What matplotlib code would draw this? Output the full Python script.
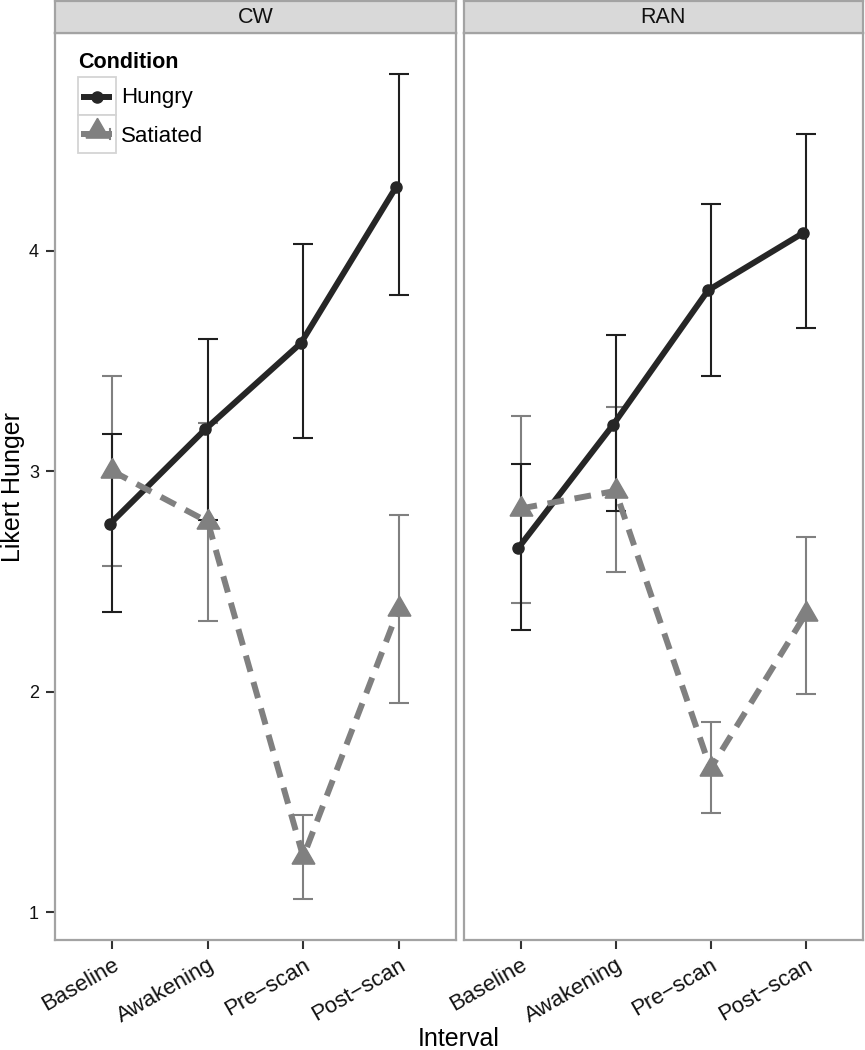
import matplotlib
matplotlib.use("Agg")
import matplotlib.pyplot as plt
from matplotlib.patches import Rectangle
from matplotlib.lines import Line2D
import numpy as np

plt.rcParams['font.family'] = ['Liberation Sans', 'DejaVu Sans']

# ---------------- data ----------------
intervals = ["Baseline", "Awakening", "Pre\u2212scan", "Post\u2212scan"]
panels = ["CW", "RAN"]
conditions = ["Hungry", "Satiated"]

cw_hungry = [2.76, 3.19, 3.58, 4.29]
cw_hungry_lo = [2.36, 2.78, 3.15, 3.80]
cw_hungry_hi = [3.17, 3.60, 4.03, 4.80]
cw_sat = [3.00, 2.77, 1.25, 2.375]
cw_sat_lo = [2.57, 2.32, 1.06, 1.95]
cw_sat_hi = [3.43, 3.22, 1.44, 2.80]

ran_hungry = [2.65, 3.21, 3.82, 4.08]
ran_hungry_lo = [2.28, 2.82, 3.43, 3.65]
ran_hungry_hi = [3.03, 3.615, 4.21, 4.53]
ran_sat = [2.83, 2.91, 1.65, 2.35]
ran_sat_lo = [2.40, 2.54, 1.45, 1.99]
ran_sat_hi = [3.25, 3.29, 1.86, 2.70]

yticks = [1, 2, 3, 4]

# ---------------- figure ----------------
W, H = 865, 1050
fig = plt.figure(figsize=(W / 100, H / 100), dpi=100)
fig.patch.set_facecolor('white')


def rect(x0, y0, x1, y1):
    return [x0 / W, 1 - y1 / H, (x1 - x0) / W, (y1 - y0) / H]


def fp(x, y):
    return (x / W, 1 - y / H)


panel_px = [(55, 456), (463.5, 862.5)]
top_px, bot_px = 33, 940
strip_top = 1

allvals = cw_hungry_lo + cw_hungry_hi + cw_sat_lo + cw_sat_hi + ran_hungry_lo + ran_hungry_hi + ran_sat_lo + ran_sat_hi
ymin, ymax = min(allvals), max(allvals)
rng = ymax - ymin
ylim = (ymin - 0.05 * rng, ymax + 0.05 * rng)

hungry_col = '#262626'
sat_col = '#808080'
border_col = '#a3a3a3'
tri = (3, 0, 0)

data = {
    "CW": (cw_hungry, cw_hungry_lo, cw_hungry_hi, cw_sat, cw_sat_lo, cw_sat_hi),
    "RAN": (ran_hungry, ran_hungry_lo, ran_hungry_hi, ran_sat, ran_sat_lo, ran_sat_hi),
}

x = np.arange(1, len(intervals) + 1)

for i, name in enumerate(panels):
    x0, x1 = panel_px[i]
    ax = fig.add_axes(rect(x0, top_px, x1, bot_px))
    h, hlo, hhi, s, slo, shi = data[name]
    h = np.array(h); s = np.array(s)
    ax.errorbar(x, s, yerr=[s - np.array(slo), np.array(shi) - s], fmt='none',
                ecolor=sat_col, elinewidth=1.5, capsize=7.2, capthick=1.5, zorder=2)
    ax.errorbar(x, h, yerr=[h - np.array(hlo), np.array(hhi) - h], fmt='none',
                ecolor='#1f1f1f', elinewidth=1.5, capsize=7.2, capthick=1.5, zorder=2)
    ax.plot(x - 0.025, h, color=hungry_col, lw=4.3, marker='o', markersize=8,
            solid_capstyle='butt', zorder=3)
    ax.plot(x, s, color=sat_col, lw=4.3, dashes=(2.8, 1.8), dash_capstyle='butt',
            zorder=4)
    ax.plot(x, s, color=sat_col, lw=0, marker=tri, markersize=19, zorder=5)

    ax.set_xlim(0.4, 4.6)
    ax.set_ylim(*ylim)
    ax.set_xticks(x)
    ax.set_xticklabels(intervals, rotation=30, ha='right', va='top',
                       rotation_mode='anchor', fontsize=16, color='#111111')
    ax.set_yticks(yticks)
    for sp in ax.spines.values():
        sp.set_color(border_col)
        sp.set_linewidth(1.6)
    ax.tick_params(axis='both', length=6.5, width=1.5, color='#333333', direction='out')
    ax.tick_params(axis='x', pad=4)
    if i == 0:
        ax.set_yticklabels([str(t) for t in yticks], fontsize=13, color='#111111')
        ax.tick_params(axis='y', pad=5)
    else:
        ax.tick_params(axis='y', left=False, labelleft=False)

    # strip
    sax = fig.add_axes(rect(x0, strip_top, x1, top_px))
    sax.set_facecolor('#d9d9d9')
    sax.set_xticks([]); sax.set_yticks([])
    for sp in sax.spines.values():
        sp.set_color(border_col)
        sp.set_linewidth(1.6)
    sax.text(0.5, 0.48, name, transform=sax.transAxes, ha='center', va='center',
             fontsize=15.5, color='#111111')

# axis titles
fig.text(*fp(13, 487), "Likert Hunger", rotation=90, ha='center', va='center', fontsize=18)
fig.text(*fp(458.5, 1039), "Interval", ha='center', va='center', fontsize=18)

# legend (manual, ggplot-like)
fig.text(*fp(78, 68), "Condition", ha='left', va='baseline', fontsize=15.5, fontweight='bold')
for (ky0, ky1) in [(76.7, 114.5), (115.0, 152.5)]:
    xy = fp(77.7, ky1)
    fig.patches.append(Rectangle(xy, (115.7 - 77.7) / W, (ky1 - ky0) / H,
                                 transform=fig.transFigure, facecolor='white',
                                 edgecolor='#d4d4d4', linewidth=1.3, zorder=5))
lx0, ly0 = fp(81, 96.5)
lx1, _ = fp(112, 96.5)
fig.lines.append(Line2D([lx0, lx1], [ly0, ly0], transform=fig.transFigure, color=hungry_col,
                        lw=4.3, solid_capstyle='butt', zorder=6))
fig.lines.append(Line2D([(lx0 + lx1) / 2], [ly0], transform=fig.transFigure, color=hungry_col,
                        marker='o', markersize=8, lw=0, zorder=7))
sx0, sy0 = fp(81, 134)
sx1, _ = fp(112, 134)
fig.lines.append(Line2D([sx0, sx1], [sy0, sy0], transform=fig.transFigure, color=sat_col,
                        lw=4.3, solid_capstyle='butt', zorder=6))
fig.lines.append(Line2D([fp(110.5, 0)[0]] * 2, [fp(0, 129)[1], fp(0, 139)[1]],
                        transform=fig.transFigure, color=sat_col, lw=1.5, zorder=6))
fig.lines.append(Line2D([(sx0 + sx1) / 2], [fp(0, 131)[1]], transform=fig.transFigure,
                        color=sat_col, marker=tri, markersize=19, lw=0, zorder=7))
fig.text(*fp(121, 103.3), "Hungry", ha='left', va='baseline', fontsize=16)
fig.text(*fp(121, 141.7), "Satiated", ha='left', va='baseline', fontsize=16)

fig.savefig("out.png", dpi=100)
